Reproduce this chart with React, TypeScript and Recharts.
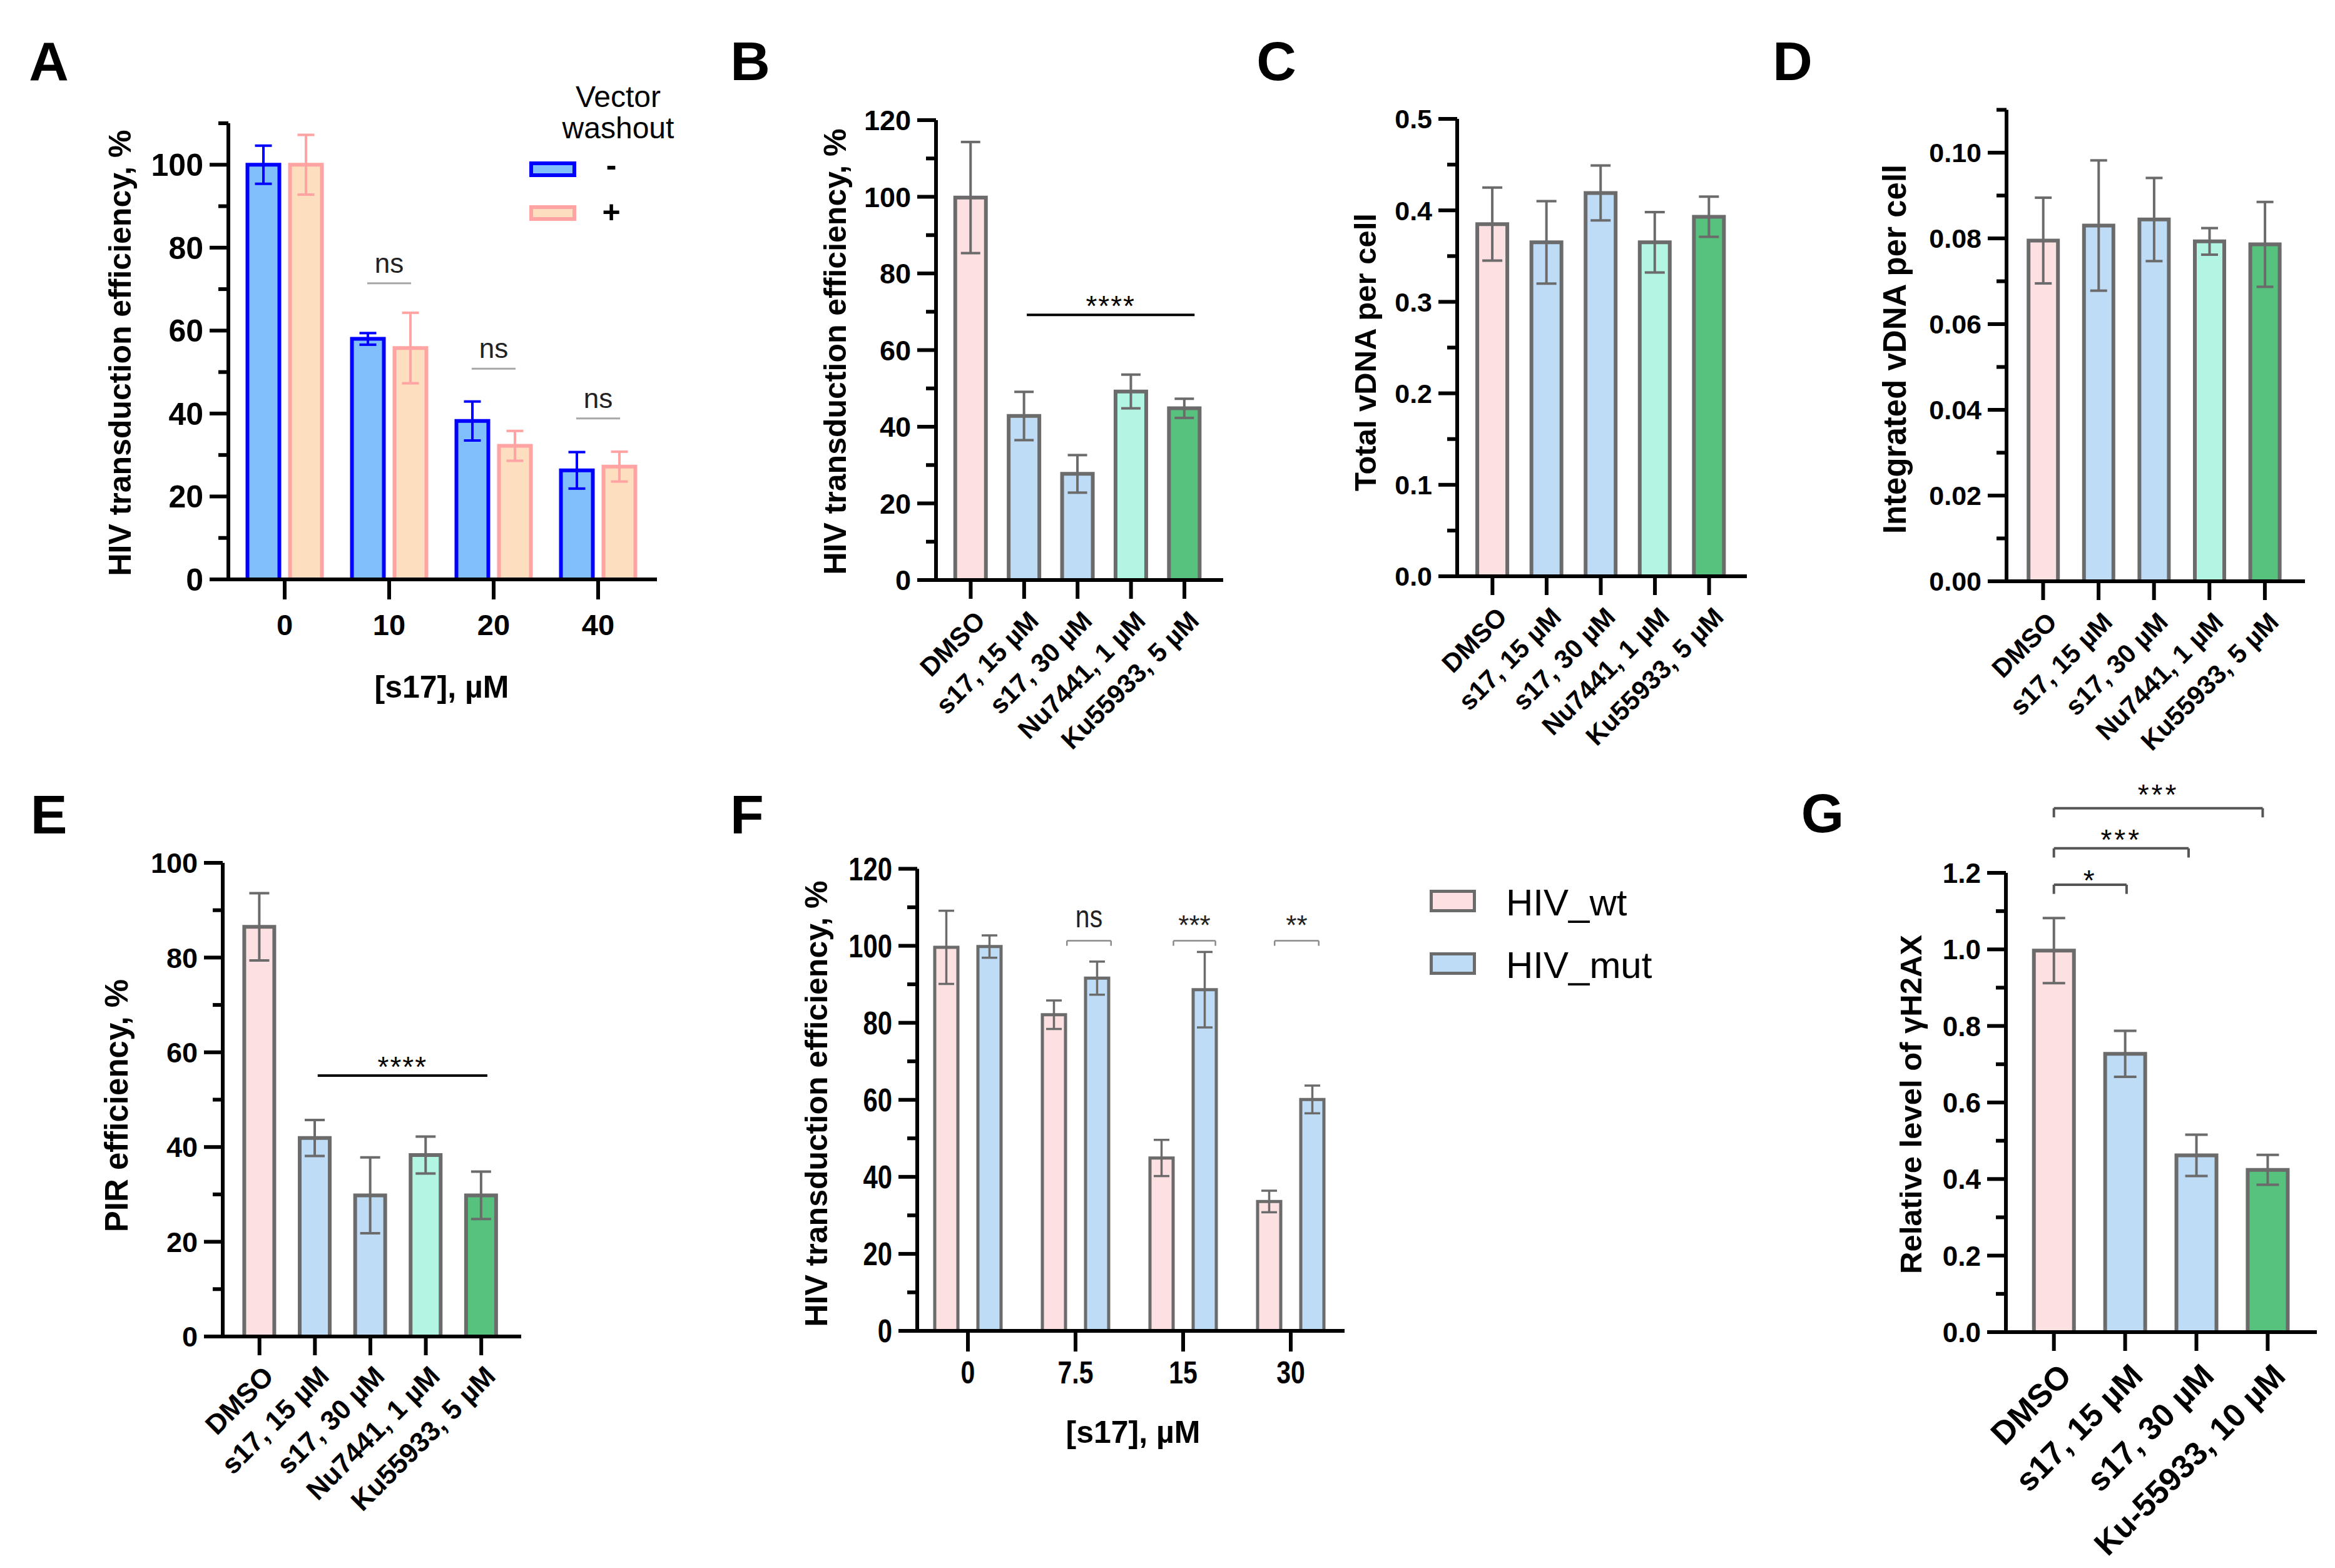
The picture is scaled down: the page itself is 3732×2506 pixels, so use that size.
import React from 'react';
import { BarChart, Bar, XAxis, YAxis, ErrorBar, Cell, ReferenceLine } from 'recharts';

const SANS = '"Liberation Sans", Arial, sans-serif';
const GREY = '#6b6b6b';
const PINK = '#fde0e1';
const SKY = '#bfdcf7';
const MINT = '#b3f5e3';
const GREEN = '#57c27e';
const AX = { stroke: '#000', strokeWidth: 6 };

// A - vector washout
const doseA = ['0', '10', '20', '40'];
const noWashA = [100, 58, 38.2, 26.3];
const noWashErrA = [4.6, 1.4, 4.7, 4.4];
const washA = [100, 55.8, 32.2, 27.2];
const washErrA = [7.2, 8.5, 3.6, 3.6];
const nsLevelA = [71.4, 50.8, 38.8];
const ticksA = [0, 10, 20, 30, 40, 50, 60, 70, 80, 90, 100, 110];

// B-E - inhibitors
const drugs = ['DMSO', 's17, 15 µM', 's17, 30 µM', 'Nu7441, 1 µM', 'Ku55933, 5 µM'];
const drugFill = [PINK, SKY, SKY, MINT, GREEN];
const transB = [99.8, 42.8, 27.7, 49.2, 44.8];
const transErrB = [14.5, 6.3, 4.9, 4.4, 2.5];
const ticksB = [0, 10, 20, 30, 40, 50, 60, 70, 80, 90, 100, 110, 120];
const totalC = [0.385, 0.365, 0.419, 0.365, 0.393];
const totalErrC = [0.04, 0.045, 0.03, 0.033, 0.022];
const ticksC = [0, 0.05, 0.1, 0.15, 0.2, 0.25, 0.3, 0.35, 0.4, 0.45, 0.5];
const integD = [0.0795, 0.083, 0.0844, 0.0793, 0.0786];
const integErrD = [0.01, 0.0152, 0.0097, 0.0031, 0.0099];
const ticksD = [0, 0.01, 0.02, 0.03, 0.04, 0.05, 0.06, 0.07, 0.08, 0.09, 0.1, 0.11];
const pirE = [86.5, 41.9, 29.8, 38.3, 29.8];
const pirErrE = [7.1, 3.8, 8.0, 3.9, 5.0];
const ticksE = [0, 10, 20, 30, 40, 50, 60, 70, 80, 90, 100];

// F - wt vs mut
const doseF = ['0', '7.5', '15', '30'];
const wtF = [99.6, 82.1, 44.9, 33.6];
const wtErrF = [9.5, 3.7, 4.7, 2.8];
const mutF = [99.8, 91.6, 88.6, 60.1];
const mutErrF = [2.9, 4.3, 9.8, 3.6];
const sigF = ['ns', '***', '**'];
const sigSpanF = [[0.92, 1.33], [1.91, 2.3], [2.85, 3.26]];
const sigLevelF = 101.3;

// G - gH2AX
const drugsG = ['DMSO', 's17, 15 µM', 's17, 30 µM', 'Ku-55933, 10 µM'];
const fillG = [PINK, SKY, SKY, GREEN];
const h2axG = [0.997, 0.727, 0.462, 0.424];
const h2axErrG = [0.085, 0.06, 0.054, 0.039];
const sigG = ['*', '***', '***'];
const sigEndG = [1.02, 1.89, 2.93];
const sigLevelG = [1.169, 1.264, 1.369];
const ticksG = [0, 0.1, 0.2, 0.3, 0.4, 0.5, 0.6, 0.7, 0.8, 0.9, 1.0, 1.1, 1.2];

// padding for a hidden numeric axis whose 0..n-1 land on the category centres
const numPad = (plotW: number, pad: { left: number; right: number }, n: number) => {
  const band = (plotW - pad.left - pad.right) / n;
  return { left: pad.left + band / 2, right: pad.right + band / 2 };
};

const yTick = (fmt: (v: number) => string, size: number, squeeze = 1) => (p: any) => {
  const ax = p.x + 10 + 30;
  const major = p.index % 2 === 0;
  return (
    <g>
      <line x1={ax - (major ? 30 : 16)} y1={p.y} x2={ax} y2={p.y} stroke="#000" strokeWidth={6} />
      {major && (
        <text transform={`translate(${p.x},${p.y}) scale(${squeeze},1)`} x={0} y={0} dy="0.36em" textAnchor="end"
          fontFamily={SANS} fontWeight="bold" fontSize={size} fill="#000">
          {fmt(p.payload.value)}
        </text>
      )}
    </g>
  );
};

const flatTick = (size: number, dy: number, squeeze = 1) => (p: any) => (
  <text transform={`translate(${p.x},${p.y + dy}) scale(${squeeze},1)`} x={0} y={0} dy="0.36em" textAnchor="middle"
    fontFamily={SANS} fontWeight="bold" fontSize={size} fill="#000">
    {p.payload.value}
  </text>
);

const slantTick = (size: number, dx: number, dy: number) => (p: any) => {
  const x = p.x + dx;
  const y = p.y + dy;
  return (
    <text x={x} y={y} dy="0.36em" textAnchor="end" transform={`rotate(-45 ${x} ${y})`} fontFamily={SANS} fontWeight="bold" fontSize={size} fill="#000">
      {p.payload.value}
    </text>
  );
};

// label drawn above a bracket, horizontally squeezed
const squeezedLabel = (value: string, size: number, offset: number, squeeze: number) => (lp: any) => {
  const vb = lp.viewBox;
  const cx = vb.x + vb.width / 2;
  const y = vb.y - offset;
  return (
    <text transform={`translate(${cx},${y}) scale(${squeeze},1)`} x={0} y={0} textAnchor="middle" fontFamily={SANS} fontSize={size} fill="#222">
      {value}
    </text>
  );
};

const Txt = ({ x, y, size, bold, rot, children }: any) => (
  <div
    style={{
      position: 'absolute', left: x, top: y, whiteSpace: 'nowrap', lineHeight: 1,
      transform: `translate(-50%, -50%)${rot ? ' rotate(-90deg)' : ''}`,
      fontFamily: SANS, fontSize: size, fontWeight: bold ? 'bold' : 'normal', color: '#000',
    }}
  >
    {children}
  </div>
);

const Swatch = ({ x, y, w, h, fill, border, bw }: any) => (
  <div style={{ position: 'absolute', left: x, top: y, width: w - 2 * bw, height: h - 2 * bw, background: fill, border: `${bw}px solid ${border}` }} />
);

function DrugPanel(p: any) {
  const rows = p.names.map((name: string, i: number) => ({ name, pos: i, v: p.values[i], e: p.errs[i] }));
  const plotW = p.box[2] - p.margin.left - p.margin.right - p.yWidth;
  return (
    <div style={{ position: 'absolute', left: p.box[0], top: p.box[1] }}>
      <BarChart width={p.box[2]} height={p.box[3]} data={rows} margin={p.margin}>
        <XAxis dataKey="name" interval={0} padding={p.pad} height={p.xHeight} tickSize={30} tickMargin={0}
          tickLine={AX} axisLine={AX} tick={slantTick(p.labelSize, p.labelDx, p.labelDy)} />
        <XAxis xAxisId="n" dataKey="pos" type="number" domain={['dataMin', 'dataMax']} hide padding={numPad(plotW, p.pad, p.names.length)} />
        <YAxis type="number" domain={p.domain} ticks={p.ticks} interval={0} width={p.yWidth} tickSize={30} tickMargin={10}
          tickLine={false} axisLine={AX} tick={yTick(p.fmt, p.tickFont)} />
        <Bar dataKey="v" barSize={p.barSize} stroke={GREY} strokeWidth={6} isAnimationActive={false}>
          {rows.map((_: any, i: number) => <Cell key={i} fill={p.fills[i]} />)}
          <ErrorBar dataKey="e" width={p.cap} stroke={GREY} strokeWidth={4} isAnimationActive={false} />
        </Bar>
        {p.extra}
      </BarChart>
    </div>
  );
}

const starLine = (from: number, to: number, y: number) => (
  <ReferenceLine key="star" xAxisId="n" segment={[{ x: from, y }, { x: to, y }]} stroke="#000" strokeWidth={4} ifOverflow="visible"
    label={{ value: '****', position: 'top', offset: -2, fontSize: 46, fill: '#000', fontFamily: SANS, letterSpacing: 2 }} />
);

function PanelA() {
  const rows = doseA.map((name, i) => ({ name, pos: i, minus: noWashA[i], minusErr: noWashErrA[i], plus: washA[i], plusErr: washErrA[i] }));
  const pad = { left: 6.5, right: 10.5 };
  return (
    <div style={{ position: 'absolute', left: 0, top: 0 }}>
      <BarChart width={1120} height={1130} data={rows} margin={{ top: 197, right: 70, bottom: 84, left: 0 }} barGap={17}>
        <XAxis dataKey="name" interval={0} padding={pad} height={120} tickSize={32} tickMargin={0}
          tickLine={AX} axisLine={AX} tick={flatTick(47, 40)} />
        <XAxis xAxisId="n" dataKey="pos" type="number" domain={['dataMin', 'dataMax']} hide padding={numPad(685, pad, 4)} />
        <YAxis type="number" domain={[0, 110]} ticks={ticksA} interval={0} width={365} tickSize={30} tickMargin={10}
          tickLine={false} axisLine={AX} tick={yTick((v) => String(v), 50)} />
        <Bar dataKey="minus" barSize={51} fill="#80bffa" stroke="#0000ff" strokeWidth={6} isAnimationActive={false}>
          <ErrorBar dataKey="minusErr" width={13.5} stroke="#0000ff" strokeWidth={4} isAnimationActive={false} />
        </Bar>
        <Bar dataKey="plus" barSize={51} fill="#fddfbf" stroke="#ffa3a3" strokeWidth={6} isAnimationActive={false}>
          <ErrorBar dataKey="plusErr" width={13.5} stroke="#ffa3a3" strokeWidth={4} isAnimationActive={false} />
        </Bar>
        {nsLevelA.map((y, k) => (
          <ReferenceLine key={k} xAxisId="n" segment={[{ x: k + 1 - 0.21, y }, { x: k + 1 + 0.21, y }]} stroke="#a8a8a8" strokeWidth={3}
            ifOverflow="visible" label={{ value: 'ns', position: 'top', offset: 17, fontSize: 44, fill: '#222', fontFamily: SANS }} />
        ))}
      </BarChart>
    </div>
  );
}

function PanelF() {
  const rows = doseF.map((name, i) => ({ name, pos: i, wt: wtF[i], wtErr: wtErrF[i], mut: mutF[i], mutErr: mutErrF[i] }));
  const pad = { left: -5, right: 0 };
  return (
    <div style={{ position: 'absolute', left: 1000, top: 1250 }}>
      <BarChart width={1750} height={1150} data={rows} margin={{ top: 138.5, right: 601, bottom: 73, left: 0 }} barGap={32}>
        <XAxis dataKey="name" interval={0} padding={pad} height={200} tickSize={33} tickMargin={0}
          tickLine={AX} axisLine={AX} tick={flatTick(50, 33, 0.82)} />
        <XAxis xAxisId="n" dataKey="pos" type="number" domain={['dataMin', 'dataMax']} hide padding={numPad(683, pad, 4)} />
        <YAxis type="number" domain={[0, 120]} ticks={ticksB} interval={0} width={466} tickSize={30} tickMargin={10}
          tickLine={false} axisLine={AX} tick={yTick((v) => String(v), 51, 0.82)} />
        <Bar dataKey="wt" barSize={37} fill={PINK} stroke={GREY} strokeWidth={5} isAnimationActive={false}>
          <ErrorBar dataKey="wtErr" width={12.5} stroke={GREY} strokeWidth={3.5} isAnimationActive={false} />
        </Bar>
        <Bar dataKey="mut" barSize={37} fill={SKY} stroke={GREY} strokeWidth={5} isAnimationActive={false}>
          <ErrorBar dataKey="mutErr" width={12.5} stroke={GREY} strokeWidth={3.5} isAnimationActive={false} />
        </Bar>
        {sigF.map((s, k) => {
          const [a, b] = sigSpanF[k];
          const y = sigLevelF;
          const isText = s === 'ns';
          return [
            <ReferenceLine key={`h${k}`} xAxisId="n" segment={[{ x: a, y }, { x: b, y }]} stroke="#8a8a8a" strokeWidth={2.5} ifOverflow="visible"
              label={{ content: squeezedLabel(s, isText ? 50 : 44, isText ? 22 : 10, isText ? 0.82 : 1) }} />,
            <ReferenceLine key={`l${k}`} xAxisId="n" segment={[{ x: a, y }, { x: a, y: y - 1.3 }]} stroke="#8a8a8a" strokeWidth={2.5} ifOverflow="visible" />,
            <ReferenceLine key={`r${k}`} xAxisId="n" segment={[{ x: b, y }, { x: b, y: y - 1.3 }]} stroke="#8a8a8a" strokeWidth={2.5} ifOverflow="visible" />,
          ];
        })}
      </BarChart>
    </div>
  );
}

const gBrackets = sigG.map((s, k) => {
  const y = sigLevelG[k];
  const b = sigEndG[k];
  const off = [-9, -2, 6][k];
  return [
    <ReferenceLine key={`h${k}`} xAxisId="n" segment={[{ x: 0, y }, { x: b, y }]} stroke="#555" strokeWidth={4} ifOverflow="visible"
      label={{ value: s, position: 'top', offset: off, fontSize: 46, fill: '#000', fontFamily: SANS, letterSpacing: 4 }} />,
    <ReferenceLine key={`l${k}`} xAxisId="n" segment={[{ x: 0, y }, { x: 0, y: y - 0.024 }]} stroke="#555" strokeWidth={4} ifOverflow="visible" />,
    <ReferenceLine key={`r${k}`} xAxisId="n" segment={[{ x: b, y }, { x: b, y: y - 0.024 }]} stroke="#555" strokeWidth={4} ifOverflow="visible" />,
  ];
});

export default function App() {
  return (
    <div style={{ position: 'absolute', left: 0, top: 0, width: 3732, height: 2506, background: '#fff', overflow: 'hidden' }}>
      <PanelA />
      <Txt x={192} y={564} size={50} bold rot>HIV transduction efficiency, %</Txt>
      <Txt x={706} y={1098} size={50} bold>[s17], µM</Txt>
      <div style={{ position: 'absolute', left: 988, top: 180, transform: 'translate(-50%, -50%)', fontFamily: SANS, fontSize: 48, lineHeight: '50px', textAlign: 'center', whiteSpace: 'nowrap' }}>
        Vector<br />washout
      </div>
      <Swatch x={846} y={258} w={75} h={25} fill="#80bffa" border="#0000ff" bw={6} />
      <Swatch x={846} y={328} w={75} h={25} fill="#fddfbf" border="#ffa3a3" bw={6} />
      <Txt x={977} y={264} size={50} bold>-</Txt>
      <Txt x={977} y={339} size={50} bold>+</Txt>

      <DrugPanel box={[1130, 0, 880, 1250]} margin={{ top: 192, right: 55, bottom: 73, left: 0 }} yWidth={366} xHeight={250}
        names={drugs} values={transB} errs={transErrB} fills={drugFill} domain={[0, 120]} ticks={ticksB} fmt={(v: number) => String(v)}
        tickFont={45} pad={{ left: 12.75, right: 19.25 }} barSize={49} cap={15.5} labelSize={42} labelDx={15} labelDy={27}
        extra={[starLine(1.05, 4.19, 69.2)]} />
      <Txt x={1335} y={562} size={50} bold rot>HIV transduction efficiency, %</Txt>

      <DrugPanel box={[2010, 0, 840, 1250]} margin={{ top: 190, right: 58, bottom: 79, left: 0 }} yWidth={319} xHeight={250}
        names={drugs} values={totalC} errs={totalErrC} fills={drugFill} domain={[0, 0.5]} ticks={ticksC} fmt={(v: number) => v.toFixed(1)}
        tickFont={43} pad={{ left: 13.1, right: 17.1 }} barSize={48} cap={16} labelSize={42} labelDx={15} labelDy={27} />
      <Txt x={2182} y={563} size={49} bold rot>Total vDNA per cell</Txt>

      <DrugPanel box={[2870, 0, 862, 1250]} margin={{ top: 175.5, right: 48, bottom: 71, left: 0 }} yWidth={337} xHeight={250}
        names={drugs} values={integD} errs={integErrD} fills={drugFill} domain={[0, 0.11]} ticks={ticksD} fmt={(v: number) => v.toFixed(2)}
        tickFont={43} pad={{ left: 14.2, right: 19.8 }} barSize={47} cap={13.5} labelSize={42} labelDx={14} labelDy={27} />
      <Txt x={3028} y={558} size={51} bold rot>Integrated vDNA per cell</Txt>

      <DrugPanel box={[0, 1250, 1000, 1250]} margin={{ top: 129, right: 167, bottom: 114, left: 0 }} yWidth={356} xHeight={250}
        names={drugs} values={pirE} errs={pirErrE} fills={drugFill} domain={[0, 100]} ticks={ticksE} fmt={(v: number) => String(v)}
        tickFont={45} pad={{ left: 14.4, right: 19.5 }} barSize={48} cap={16} labelSize={44} labelDx={14} labelDy={25}
        extra={[starLine(1.05, 4.11, 55.1)]} />
      <Txt x={186} y={1767} size={51} bold rot>PIR efficiency, %</Txt>

      <PanelF />
      <Txt x={1305} y={1764} size={50} bold rot>HIV transduction efficiency, %</Txt>
      <Txt x={1811} y={2289} size={50} bold>[s17], µM</Txt>
      <Swatch x={2285} y={1422} w={74} h={36} fill={PINK} border={GREY} bw={5} />
      <Swatch x={2285} y={1522} w={74} h={36} fill={SKY} border={GREY} bw={5} />
      <div style={{ position: 'absolute', left: 2407, top: 1443, transform: 'translateY(-50%)', fontFamily: SANS, fontSize: 60, lineHeight: 1 }}>HIV_wt</div>
      <div style={{ position: 'absolute', left: 2407, top: 1543, transform: 'translateY(-50%)', fontFamily: SANS, fontSize: 60, lineHeight: 1 }}>HIV_mut</div>

      <DrugPanel box={[2800, 1200, 932, 1306]} margin={{ top: 195, right: 29, bottom: 77, left: 0 }} yWidth={406} xHeight={300}
        names={drugsG} values={h2axG} errs={h2axErrG} fills={fillG} domain={[0, 1.2]} ticks={ticksG} fmt={(v: number) => v.toFixed(1)}
        tickFont={44} pad={{ left: 19.75, right: 21.65 }} barSize={64} cap={18} labelSize={52} labelDx={18} labelDy={30}
        extra={gBrackets} />
      <Txt x={3054} y={1765} size={49} bold rot>Relative level of γH2AX</Txt>

      <Txt x={78} y={98} size={88} bold>A</Txt>
      <Txt x={1199} y={98} size={88} bold>B</Txt>
      <Txt x={2040} y={98} size={88} bold>C</Txt>
      <Txt x={2865} y={98} size={88} bold>D</Txt>
      <Txt x={78} y={1302} size={88} bold>E</Txt>
      <Txt x={1194} y={1302} size={88} bold>F</Txt>
      <Txt x={2913} y={1300} size={88} bold>G</Txt>
    </div>
  );
}
